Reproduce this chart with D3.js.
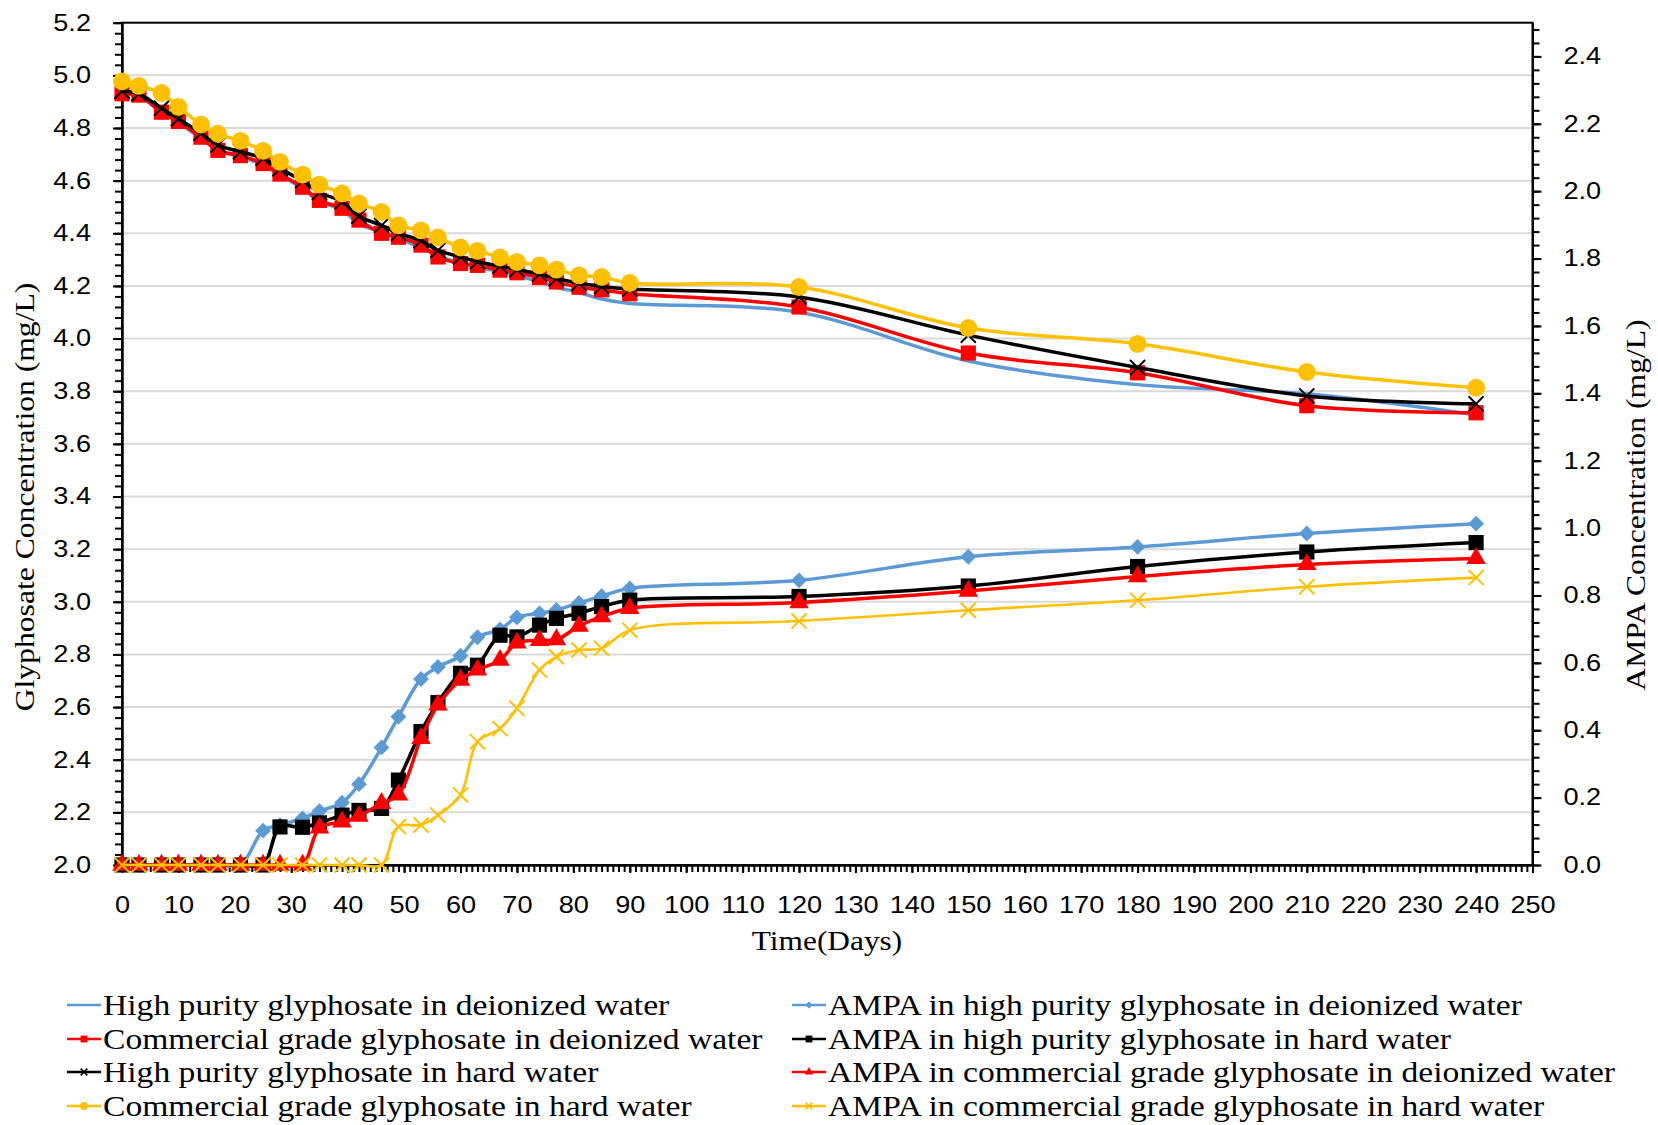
<!DOCTYPE html>
<html>
<head>
<meta charset="utf-8">
<script src="https://cdn.jsdelivr.net/npm/d3@7"></script>
<style>
  body { margin: 0; background: #fff; }
</style>
</head>
<body>
<svg id="chart" width="1658" height="1125"></svg>
<script>
// Sampling days
let days = [0, 3, 7, 10, 14, 17, 21, 25, 28, 32, 35, 39, 42, 46, 49, 53, 56, 60, 63, 67, 70, 74, 77, 81, 85, 90, 120, 150, 180, 210, 240];

// Glyphosate (left axis, mg/L)
let glyHighDeion = [4.93, 4.92, 4.86, 4.82, 4.76, 4.715, 4.69, 4.66, 4.62, 4.57, 4.52, 4.49, 4.435, 4.405, 4.38, 4.345, 4.315, 4.285, 4.27, 4.255, 4.24, 4.215, 4.195, 4.175, 4.15, 4.133, 4.10, 3.915, 3.825, 3.79, 3.71];
let glyCommDeion = [4.93, 4.925, 4.86, 4.825, 4.765, 4.715, 4.695, 4.665, 4.625, 4.575, 4.525, 4.495, 4.45, 4.40, 4.385, 4.355, 4.31, 4.285, 4.278, 4.26, 4.25, 4.232, 4.215, 4.195, 4.185, 4.17, 4.12, 3.945, 3.87, 3.745, 3.718];
let glyHighHard = [4.94, 4.93, 4.875, 4.835, 4.78, 4.735, 4.71, 4.685, 4.645, 4.60, 4.555, 4.52, 4.465, 4.43, 4.40, 4.372, 4.335, 4.31, 4.292, 4.275, 4.262, 4.245, 4.228, 4.21, 4.198, 4.188, 4.158, 4.013, 3.89, 3.782, 3.752];
let glyCommHard = [4.977, 4.96, 4.933, 4.88, 4.813, 4.778, 4.751, 4.713, 4.671, 4.623, 4.585, 4.551, 4.513, 4.481, 4.43, 4.411, 4.384, 4.346, 4.333, 4.308, 4.291, 4.278, 4.262, 4.24, 4.234, 4.211, 4.196, 4.04, 3.98, 3.873, 3.813];

// AMPA (right axis, mg/L)
let ampaHighDeion = [0, 0, 0, 0, 0, 0, 0, 0.102, 0.118, 0.138, 0.16, 0.185, 0.24, 0.349, 0.44, 0.552, 0.588, 0.621, 0.676, 0.699, 0.735, 0.747, 0.757, 0.778, 0.798, 0.821, 0.845, 0.915, 0.944, 0.984, 1.013];
let ampaHighHard = [0, 0, 0, 0, 0, 0, 0, 0, 0.113, 0.112, 0.125, 0.148, 0.162, 0.168, 0.252, 0.396, 0.482, 0.569, 0.593, 0.682, 0.677, 0.712, 0.732, 0.747, 0.767, 0.786, 0.797, 0.828, 0.886, 0.929, 0.957];
let ampaCommDeion = [0, 0, 0, 0, 0, 0, 0, 0, 0, 0, 0.11, 0.128, 0.145, 0.183, 0.208, 0.376, 0.475, 0.549, 0.579, 0.608, 0.659, 0.667, 0.669, 0.709, 0.737, 0.762, 0.779, 0.813, 0.856, 0.892, 0.91];
let ampaCommHard = [0, 0, 0, 0, 0, 0, 0, 0, 0, 0, 0, 0, 0, 0, 0.114, 0.119, 0.148, 0.208, 0.366, 0.405, 0.465, 0.579, 0.618, 0.638, 0.643, 0.697, 0.724, 0.756, 0.786, 0.826, 0.853];

// Tick labels
let xTicks = [0, 10, 20, 30, 40, 50, 60, 70, 80, 90, 100, 110, 120, 130, 140, 150, 160, 170, 180, 190, 200, 210, 220, 230, 240, 250];
let leftTicks = [2.0, 2.2, 2.4, 2.6, 2.8, 3.0, 3.2, 3.4, 3.6, 3.8, 4.0, 4.2, 4.4, 4.6, 4.8, 5.0, 5.2];
let rightTicks = [0.0, 0.2, 0.4, 0.6, 0.8, 1.0, 1.2, 1.4, 1.6, 1.8, 2.0, 2.2, 2.4];

let names = {
    glyHighDeion: "High purity glyphosate in deionized water",
    glyCommDeion: "Commercial grade glyphosate in deionized water",
    glyHighHard: "High purity glyphosate in hard water",
    glyCommHard: "Commercial grade glyphosate in hard water",
    ampaHighDeion: "AMPA in high purity glyphosate in deionized water",
    ampaHighHard: "AMPA in high purity glyphosate in hard water",
    ampaCommDeion: "AMPA in commercial grade glyphosate in deionized water",
    ampaCommHard: "AMPA in commercial grade glyphosate in hard water"
};

// Set up conventions
let width = 1658;
let height = 1125;
let plot = {left: 122, right: 1532.5, top: 22.7, bottom: 865};
let blue = "#5B9BD5", red = "#FF0000", black = "#000000", gold = "#FFC000";
let sansFont = "'Liberation Sans', Arial, sans-serif";
let serifFont = "'Liberation Serif', 'Times New Roman', serif";

let svg = d3.select("#chart");

let xScale = d3.scaleLinear().domain([0, 250]).range([plot.left, plot.right]);
let yLeft = d3.scaleLinear().domain([2, 5.2]).range([plot.bottom, plot.top]);
let yRight = d3.scaleLinear().domain([0, 2.5]).range([plot.bottom, plot.top]);

// gridlines
svg.append("g")
    .selectAll("line")
    .data(leftTicks.slice(1, -1))
    .enter()
    .append("line")
    .attr("x1", plot.left)
    .attr("x2", plot.right)
    .attr("y1", d => yLeft(d))
    .attr("y2", d => yLeft(d))
    .attr("stroke", "#D9D9D9")
    .attr("stroke-width", 2);

// frame
svg.append("rect")
    .attr("x", plot.left)
    .attr("y", plot.top)
    .attr("width", plot.right - plot.left)
    .attr("height", plot.bottom - plot.top)
    .attr("fill", "none")
    .attr("stroke", "black")
    .attr("stroke-width", 2);

// stretch helper for text (the reference type is wider than normal)
function stretch(sel, dx, sx) {
    sel.each(function () {
        d3.select(this).attr("x", 0)
            .attr("transform", "translate(" + dx + ",0) scale(" + sx + ",1)");
    });
}

// minor ticks
let minorLeft = d3.range(0, 81).map(i => 2 + i * 0.04);
let minorRight = d3.range(0, 63).map(i => i * 0.04);
let minorX = d3.range(0, 251);

function styleAxis(g) {
    g.selectAll("path").attr("stroke", "black").attr("stroke-width", 2);
    g.selectAll("line").attr("stroke", "black").attr("stroke-width", 2);
}

svg.append("g")
    .attr("transform", "translate(" + plot.left + ",0)")
    .call(d3.axisLeft(yLeft).tickValues(minorLeft).tickSize(7).tickSizeOuter(0).tickFormat(""))
    .call(styleAxis);
svg.append("g")
    .attr("transform", "translate(" + plot.right + ",0)")
    .call(d3.axisRight(yRight).tickValues(minorRight).tickSize(7).tickSizeOuter(0).tickFormat(""))
    .call(styleAxis);
svg.append("g")
    .attr("transform", "translate(0," + plot.bottom + ")")
    .call(d3.axisBottom(xScale).tickValues(minorX).tickSize(7).tickSizeOuter(0).tickFormat(""))
    .call(styleAxis);

// major ticks + labels
let leftAxis = svg.append("g")
    .attr("transform", "translate(" + plot.left + ",0)")
    .call(d3.axisLeft(yLeft).tickValues(leftTicks).tickSize(9).tickSizeOuter(0).tickFormat(d3.format(".1f")))
    .call(styleAxis);
leftAxis.selectAll("text")
    .attr("font-family", sansFont).attr("font-size", 23).attr("fill", "black")
    .call(stretch, -31, 1.18);

let rightAxis = svg.append("g")
    .attr("transform", "translate(" + plot.right + ",0)")
    .call(d3.axisRight(yRight).tickValues(rightTicks).tickSize(9).tickSizeOuter(0).tickFormat(d3.format(".1f")))
    .call(styleAxis);
rightAxis.selectAll("text")
    .attr("font-family", sansFont).attr("font-size", 23).attr("fill", "black")
    .call(stretch, 31, 1.18);

let bottomAxis = svg.append("g")
    .attr("transform", "translate(0," + plot.bottom + ")")
    .call(d3.axisBottom(xScale).tickValues(xTicks).tickSize(8).tickSizeOuter(0))
    .call(styleAxis);
bottomAxis.selectAll("text")
    .attr("font-family", sansFont).attr("font-size", 23).attr("fill", "black")
    .attr("y", 48).attr("dy", 0)
    .call(stretch, 0, 1.18);

// axis titles
svg.append("text")
    .attr("transform", "translate(26,497) rotate(-90) scale(1.13,1)")
    .attr("text-anchor", "middle")
    .attr("dy", "0.3em")
    .attr("font-family", serifFont)
    .attr("font-size", 28)
    .text("Glyphosate Concentration (mg/L)");

svg.append("text")
    .attr("transform", "translate(1637,505) rotate(-90) scale(1.13,1)")
    .attr("text-anchor", "middle")
    .attr("dy", "0.3em")
    .attr("font-family", serifFont)
    .attr("font-size", 28)
    .text("AMPA Concentration (mg/L)");

svg.append("text")
    .attr("transform", "translate(827,942) scale(1.12,1)")
    .attr("text-anchor", "middle")
    .attr("dy", "0.3em")
    .attr("font-family", serifFont)
    .attr("font-size", 28)
    .text("Time(Days)");

// series
let series = [
    {key: "glyHighDeion", values: glyHighDeion, y: yLeft, color: blue, marker: "none", w: 3.5},
    {key: "glyCommDeion", values: glyCommDeion, y: yLeft, color: red, marker: "square", w: 3.5},
    {key: "glyHighHard", values: glyHighHard, y: yLeft, color: black, marker: "x", w: 3.5},
    {key: "glyCommHard", values: glyCommHard, y: yLeft, color: gold, marker: "circle", w: 3.5},
    {key: "ampaHighDeion", values: ampaHighDeion, y: yRight, color: blue, marker: "diamond", w: 3.5},
    {key: "ampaHighHard", values: ampaHighHard, y: yRight, color: black, marker: "square", w: 3.5},
    {key: "ampaCommDeion", values: ampaCommDeion, y: yRight, color: red, marker: "triangle", w: 3.5},
    {key: "ampaCommHard", values: ampaCommHard, y: yRight, color: gold, marker: "x", w: 2.6}
];

function markerPath(type, big) {
    let k = big ? 1 : 0.45;
    if (type === "square") return d3.symbol(d3.symbolSquare, 230 * k * k)();
    if (type === "circle") return d3.symbol(d3.symbolCircle, 250 * k * k)();
    if (type === "triangle") return d3.symbol(d3.symbolTriangle, 165 * k * k)();
    if (type === "diamond") return d3.symbol(d3.symbolDiamond2, 160 * k * k)();
    if (type === "x") return d3.symbol(d3.symbolX, 150 * k * k)();
    return null;
}

function drawMarker(g, type, color, big) {
    let p = markerPath(type, big);
    if (!p) return;
    let m = g.append("path").attr("d", p);
    if (type === "x") {
        m.attr("fill", "none").attr("stroke", color).attr("stroke-width", big ? 2 : 1.6);
    } else {
        m.attr("fill", color);
    }
}

series.forEach(s => {
    let pts = days.map((d, i) => [d, s.values[i]]);
    let line = d3.line()
        .x(d => xScale(d[0]))
        .y(d => s.y(d[1]))
        .curve(d3.curveCatmullRom.alpha(0.5));

    let g = svg.append("g").attr("class", s.key);
    g.append("path")
        .attr("d", line(pts))
        .attr("fill", "none")
        .attr("stroke", s.color)
        .attr("stroke-width", s.w)
        .attr("stroke-linejoin", "round");

    if (s.marker !== "none") {
        pts.forEach(p => {
            let mg = g.append("g")
                .attr("transform", "translate(" + xScale(p[0]) + "," + s.y(p[1]) + ")");
            drawMarker(mg, s.marker, s.color, true);
        });
    }
});

// legend
let legendRows = [1005, 1039, 1072, 1106];
let legendCols = [{x: 67, items: series.slice(0, 4)}, {x: 792, items: series.slice(4)}];

legendCols.forEach(col => {
    col.items.forEach((s, i) => {
        let g = svg.append("g")
            .attr("transform", "translate(" + col.x + "," + legendRows[i] + ")");
        g.append("line")
            .attr("x1", 0).attr("x2", 34)
            .attr("y1", 0).attr("y2", 0)
            .attr("stroke", s.color)
            .attr("stroke-width", 2.5);
        let mg = g.append("g").attr("transform", "translate(17,0)");
        drawMarker(mg, s.marker, s.color, false);
        g.append("text")
            .attr("transform", "translate(36,10) scale(1.12,1)")
            .attr("font-family", serifFont)
            .attr("font-size", 30)
            .attr("fill", "black")
            .text(names[s.key]);
    });
});
</script>
</body>
</html>
